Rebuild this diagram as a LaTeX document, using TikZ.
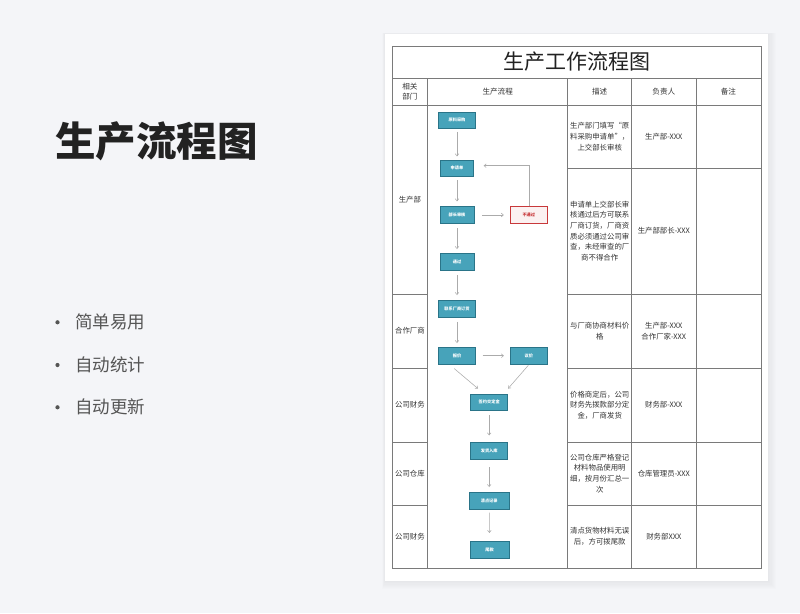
\documentclass[tikz,border=0pt]{standalone}
\usepackage{fontspec}
\setmainfont{Noto Sans CJK SC}
\usetikzlibrary{arrows.meta}
\definecolor{bgc}{HTML}{F4F5F8}
\definecolor{boxfill}{HTML}{47A3BA}
\definecolor{boxedge}{HTML}{2A7488}
\definecolor{redc}{HTML}{C8383A}
\definecolor{redfill}{HTML}{FBF1F1}
\definecolor{linec}{HTML}{7A7A7A}
\definecolor{arrc}{HTML}{ABABAB}
\definecolor{txtc}{HTML}{333333}
\definecolor{titlec}{HTML}{222222}
\definecolor{bulc}{HTML}{555555}
\begin{document}
\begin{tikzpicture}[x=1pt,y=-1pt,
  tl/.style={draw=linec,line width=0.75pt},
  cell/.style={inner sep=0,align=center,text=txtc,font=\fontsize{7.4}{10.7}\selectfont},
  hdr/.style={inner sep=0,align=center,text=txtc,font=\fontsize{7.6}{10}\selectfont},
  fbox/.style={draw=boxedge,fill=boxfill,line width=0.6pt,minimum height=16.7pt,inner sep=0,text=white,font=\fontsize{4.2}{4.5}\selectfont\bfseries},
  rbox/.style={draw=redc,fill=redfill,line width=0.8pt,minimum height=16.7pt,inner sep=0,text=redc,font=\fontsize{4.2}{4.5}\selectfont\bfseries},
  arr/.style={draw=arrc,line width=0.55pt,-{Straight Barb[length=2.2pt,width=3.6pt]}},
  bul/.style={circle,fill=bulc,inner sep=0,minimum size=4.2pt},
  bultxt/.style={anchor=west,inner sep=0,text=bulc,font=\fontsize{17.5}{18}\selectfont}]
\useasboundingbox (0,0) rectangle (800,613);
\fill[bgc] (0,0) rectangle (800,613);
% page shadow
\foreach \i in {1,...,7}{
  \fill[black,opacity=0.007] (385-0.4*\i,34-0.2*\i) rectangle (768+1.2*\i,581+1.2*\i);
}
\fill[white] (385,34) rectangle (768,581);
% left side
\node[anchor=west,inner sep=0,text=titlec,font=\fontsize{40.5}{41}\selectfont\bfseries] (lt) at (55,141) {生产流程图};
\node[bul] (b1) at (57.5,322.3) {};
\node[bul] (b2) at (57.5,365) {};
\node[bul] (b3) at (57.5,407.3) {};
\node[bultxt] (t1) at (75,322.3) {简单易用};
\node[bultxt] (t2) at (75,365) {自动统计};
\node[bultxt] (t3) at (75,407.3) {自动更新};
% table
\draw[tl] (392,46) rectangle (761,568);
\draw[tl] (392,78) -- (761,78);
\draw[tl] (392,105) -- (761,105);
\foreach \x in {427.7,567.7,631.7,696}{\draw[tl] (\x,78) -- (\x,568);}
\foreach \y in {294,368,442,505}{\draw[tl] (392,\y) -- (427.7,\y);}
\foreach \y in {168.3,294,368,442,505}{\draw[tl] (567.7,\y) -- (761,\y);}
% title and headers
\node[inner sep=0,text=titlec,font=\fontsize{21}{22}\selectfont] (title) at (576.5,62) {生产工作流程图};
\node[hdr] (h1) at (409.9,91.5) {相关\\部门};
\node[hdr] (h2) at (497.7,91.5) {生产流程};
\node[hdr] (h3) at (599.7,91.5) {描述};
\node[hdr] (h4) at (663.8,91.5) {负责人};
\node[hdr] (h5) at (728.4,91.5) {备注};
% departments
\node[cell] (d1) at (409.9,199.5) {生产部};
\node[cell] (d2) at (409.9,331) {合作厂商};
\node[cell] (d3) at (409.9,405) {公司财务};
\node[cell] (d4) at (409.9,473.5) {公司仓库};
\node[cell] (d5) at (409.9,536.5) {公司财务};
% descriptions
\node[cell] (s1) at (599.7,136.5) {生产部门填写“原\\料采购申请单”，\\上交部长审核};
\node[cell] (s2) at (599.7,231) {申请单上交部长审\\核通过后方可联系\\厂商订货，厂商资\\质必须通过公司审\\查，未经审查的厂\\商不得合作};
\node[cell] (s3) at (599.7,331) {与厂商协商材料价\\格};
\node[cell] (s4) at (599.7,405) {价格商定后，公司\\财务先拨款部分定\\金，厂商发货};
\node[cell] (s5) at (599.7,473.5) {公司仓库严格登记\\材料物品使用明\\细，按月份汇总一\\次};
\node[cell] (s6) at (599.7,536.5) {清点货物材料无误\\后，方可拨尾款};
% responsible
\node[cell] (r1) at (663.8,136.5) {生产部-XXX};
\node[cell] (r2) at (663.8,231) {生产部部长-XXX};
\node[cell] (r3) at (663.8,331) {生产部-XXX\\合作厂家-XXX};
\node[cell] (r4) at (663.8,405) {财务部-XXX};
\node[cell] (r5) at (663.8,473.5) {仓库管理员-XXX};
\node[cell] (r6) at (663.8,536.5) {财务部XXX};
% flow boxes
\node[fbox,minimum width=37.4pt] (yl) at (457,120.2) {原料采购};
\node[fbox,minimum width=32.6pt] (sq) at (457,168.3) {申请单};
\node[fbox,minimum width=34.3pt] (bz) at (457,215) {部长审核};
\node[rbox,minimum width=36.3pt] (bt) at (528.8,215) {不通过};
\node[fbox,minimum width=34.3pt] (tg) at (457,261.7) {通过};
\node[fbox,minimum width=37.4pt] (lx) at (457,308.7) {联系厂商订货};
\node[fbox,minimum width=37.4pt] (bj) at (457,355.7) {报价};
\node[fbox,minimum width=36.3pt] (yj) at (528.8,355.7) {议价};
\node[fbox,minimum width=37pt] (qy) at (489.2,402.3) {签约交定金};
\node[fbox,minimum width=37pt] (fh) at (489.2,450.7) {发货入库};
\node[fbox,minimum width=40.3pt] (qd) at (489.2,500.7) {清点记录};
\node[fbox,minimum width=39pt] (wk) at (489.5,550) {尾款};
% arrows
\draw[arr,shorten <=3pt,shorten >=3.3pt] (yl) -- (sq);
\draw[arr,shorten <=3.3pt,shorten >=5pt] (sq) -- (bz);
\draw[arr,shorten <=8pt,shorten >=6.4pt] (bz) -- (bt);
\draw[arr,shorten >=10pt] (bt.north) |- ([yshift=2.6pt]sq.east);
\draw[arr,shorten <=4.7pt,shorten >=4pt] (bz) -- (tg);
\draw[arr,shorten <=5pt,shorten >=5pt] (tg) -- (lx);
\draw[arr,shorten <=4.4pt,shorten >=4pt] (lx) -- (bj);
\draw[arr,shorten <=6.6pt,shorten >=6.4pt] (bj) -- (yj);
\draw[arr] ([xshift=-2.7pt,yshift=-4.3pt]bj.south) -- ([xshift=7.6pt,yshift=5pt]qy.north west);
\draw[arr] ([xshift=-0.5pt,yshift=-1pt]yj.south) -- ([yshift=5pt]qy.north east);
\draw[arr,shorten <=4.3pt,shorten >=6.6pt] (qy) -- (fh);
\draw[arr,shorten <=7.7pt,shorten >=5pt] (fh) -- (qd);
\draw[arr,shorten <=3.3pt,shorten >=8.4pt] (qd) -- (wk);
\end{tikzpicture}
\end{document}
